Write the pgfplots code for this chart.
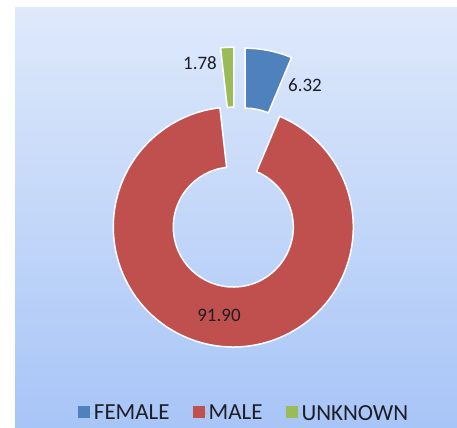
\documentclass[border=0pt]{standalone}
\usepackage{pgfplots}
\pgfplotsset{compat=1.18}
\usepackage{fontspec}
\setmainfont{Carlito}
\definecolor{cF}{RGB}{79,129,189}
\definecolor{cM}{RGB}{192,80,77}
\definecolor{cU}{RGB}{155,187,89}
\definecolor{bgtop}{RGB}{222,233,251}
\definecolor{bgbot}{RGB}{168,197,247}
\definecolor{txt}{RGB}{30,30,40}
% data (percent)
\def\vF{6.32}\def\vM{91.90}\def\vU{1.78}
\pgfplotsset{sqlegend/.style={legend image code/.code={\path (0bp,0bp) -- (15bp,0bp);\fill[##1] (0bp,-5bp) rectangle (12bp,7bp);}}}
\begin{document}
\begin{tikzpicture}
\pgfmathsetmacro\aA{90}
\pgfmathsetmacro\aB{\aA-3.6*\vF}
\pgfmathsetmacro\aC{\aB-3.6*\vM}
\pgfmathsetmacro\aD{\aC-3.6*\vU}
\pgfmathsetmacro\mF{(\aA+\aB)/2}
\pgfmathsetmacro\mU{(\aC+\aD)/2}
\begin{axis}[hide axis, x=1bp, y=1bp, xmin=0, xmax=457, ymin=0, ymax=427,
  clip=false,
  legend columns=3,
  legend style={at={(0.533,0.01)}, anchor=south, draw=none, fill=none,
    font=\fontsize{23bp}{25bp}\selectfont, text=txt, inner sep=0pt,
    nodes={inner sep=1bp},
    /tikz/every even column/.append style={column sep=22bp}},
]
\fill[white] (axis cs:0,0) rectangle (axis cs:457,427);
\shade[top color=bgtop, bottom color=bgbot] (axis cs:15,0) rectangle (axis cs:457,419);
\coordinate (O) at (axis cs:233.3,200);
% FEMALE (exploded)
\fill[cF, draw=white, line width=1.5bp, shift={(O)}, shift={(\mF:60bp)}]
  (\aA:120bp) arc[start angle=\aA, end angle=\aB, radius=120bp]
  -- (\aB:60bp) arc[start angle=\aB, end angle=\aA, radius=60bp] -- cycle;
% MALE
\fill[cM, draw=white, line width=1.5bp, shift={(O)}]
  (\aB:120bp) arc[start angle=\aB, end angle=\aC, radius=120bp]
  -- (\aC:60bp) arc[start angle=\aC, end angle=\aB, radius=60bp] -- cycle;
% UNKNOWN (exploded)
\fill[cU, draw=white, line width=1.5bp, shift={(O)}, shift={(\mU:60bp)}, xshift=4bp]
  (\aC:120bp) arc[start angle=\aC, end angle=\aD, radius=120bp]
  -- (\aD:60bp) arc[start angle=\aD, end angle=\aC, radius=60bp] -- cycle;
\node[font=\fontsize{19bp}{20bp}\selectfont, text=txt] at (axis cs:305,342) {\vF};
\node[font=\fontsize{19bp}{20bp}\selectfont, text=txt] at (axis cs:200,364) {\vU};
\node[font=\fontsize{19bp}{20bp}\selectfont, text=txt] at (axis cs:219,112) {\vM};
\addlegendimage{sqlegend, fill=cF, draw=none}
\addlegendentry{FEMALE}
\addlegendimage{sqlegend, fill=cM, draw=none}
\addlegendentry{MALE}
\addlegendimage{sqlegend, fill=cU, draw=none}
\addlegendentry{UNKNOWN}
\end{axis}
\end{tikzpicture}
\end{document}
